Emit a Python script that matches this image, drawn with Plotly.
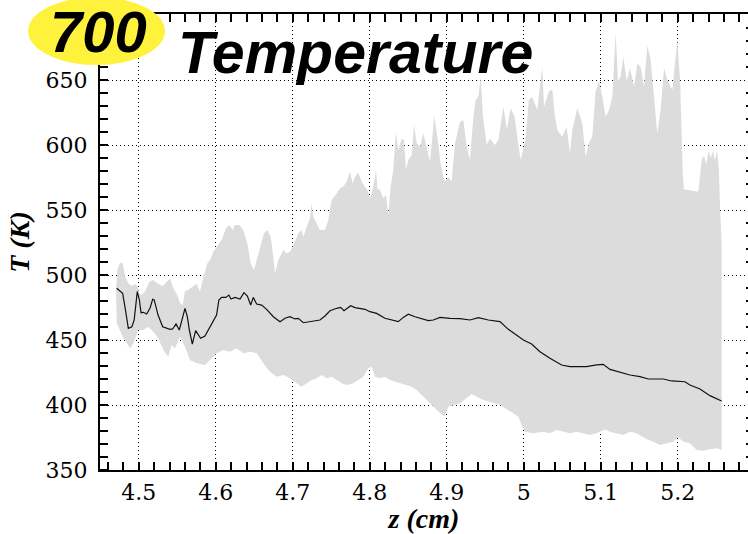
import plotly.graph_objects as go

# Axial position (cm) and temperature envelope (K)
z_upper = [4.4704, 4.4721, 4.4756, 4.4791, 4.4821, 4.4864, 4.4908, 4.4951, 4.4981, 4.5006,
           4.5037, 4.5080, 4.5136, 4.5188, 4.5240, 4.5310, 4.5362, 4.5405, 4.5448, 4.5500,
           4.5535, 4.5570, 4.5600, 4.5643, 4.5708, 4.5752, 4.5795, 4.5838, 4.5890, 4.5925,
           4.5968, 4.6020, 4.6076, 4.6132, 4.6175, 4.6219, 4.6249, 4.6305, 4.6357, 4.6409,
           4.6453, 4.6496, 4.6539, 4.6583, 4.6626, 4.6669, 4.6713, 4.6745, 4.6769, 4.6812,
           4.6877, 4.6921, 4.6964, 4.7007, 4.7072, 4.7115, 4.7137, 4.7180, 4.7223, 4.7245,
           4.7266, 4.7310, 4.7353, 4.7418, 4.7461, 4.7483, 4.7505, 4.7570, 4.7613, 4.7656,
           4.7700, 4.7743, 4.7778, 4.7808, 4.7851, 4.7895, 4.7938, 4.7981, 4.8003, 4.8046,
           4.8081, 4.8098, 4.8133, 4.8176, 4.8211, 4.8241, 4.8271, 4.8305, 4.8340, 4.8370,
           4.8414, 4.8444, 4.8470, 4.8500, 4.8544, 4.8574, 4.8609, 4.8652, 4.8695, 4.8739,
           4.8782, 4.8825, 4.8834, 4.8890, 4.8912, 4.8955, 4.8977, 4.9020, 4.9063, 4.9107,
           4.9172, 4.9215, 4.9258, 4.9301, 4.9345, 4.9375, 4.9410, 4.9440, 4.9470, 4.9518,
           4.9560, 4.9625, 4.9670, 4.9735, 4.9780, 4.9830, 4.9880, 4.9920, 4.9960, 5.0020,
           5.0065, 5.0110, 5.0175, 5.0240, 5.0262, 5.0327, 5.0370, 5.0400, 5.0435, 5.0500,
           5.0556, 5.0600, 5.0630, 5.0695, 5.0760, 5.0803, 5.0846, 5.0890, 5.0933, 5.0977,
           5.1020, 5.1063, 5.1107, 5.1150, 5.1193, 5.1224, 5.1258, 5.1293, 5.1336, 5.1380,
           5.1432, 5.1475, 5.1518, 5.1561, 5.1604, 5.1648, 5.1691, 5.1734, 5.1777, 5.1821,
           5.1864, 5.1929, 5.1994, 5.2030, 5.2065, 5.2080, 5.2267, 5.2310, 5.2340, 5.2370,
           5.2400, 5.2430, 5.2460, 5.2480, 5.2510, 5.2535, 5.2550, 5.2570]
t_upper = [488.5, 503.8, 509.5, 509.0, 498.7, 493.6, 491.5, 493.1, 491.5, 485.9,
           484.6, 487.2, 494.8, 496.2, 493.6, 491.5, 494.8, 497.4, 489.8, 484.6,
           478.2, 476.9, 487.9, 488.5, 491.5, 493.1, 487.2, 498.7, 509.0, 511.5,
           517.9, 521.8, 526.9, 535.9, 538.5, 534.6, 538.5, 538.5, 534.6, 524.4,
           509.0, 503.8, 512.8, 523.1, 532.1, 534.6, 529.5, 515.0, 501.3, 511.5,
           519.2, 516.7, 517.9, 523.1, 532.1, 534.6, 529.5, 537.2, 543.6, 555.1,
           544.8, 539.8, 534.6, 534.6, 542.3, 550.0, 557.7, 562.8, 566.7, 568.0,
           571.8, 579.5, 570.5, 575.6, 578.7, 571.8, 568.0, 564.1, 559.0, 568.0,
           580.8, 566.7, 565.4, 559.0, 561.5, 546.2, 568.0, 580.8, 610.2, 596.2,
           605.1, 603.8, 580.8, 588.5, 592.3, 615.4, 601.3, 598.7, 609.0, 598.7,
           587.2, 614.1, 623.0, 601.3, 588.5, 575.6, 571.8, 575.6, 571.8, 601.3,
           618.0, 619.2, 598.7, 588.5, 621.8, 634.6, 637.0, 652.6, 621.8, 600.0,
           605.1, 600.0, 603.8, 629.5, 612.0, 628.2, 621.8, 604.0, 588.5, 603.8,
           634.6, 637.0, 626.9, 660.3, 629.5, 641.3, 642.5, 624.4, 611.5, 606.4,
           614.0, 593.6, 611.5, 628.2, 616.7, 591.0, 601.3, 606.4, 641.3, 649.0,
           637.0, 621.8, 626.9, 637.0, 686.1, 649.0, 652.6, 668.0, 649.0, 659.2,
           644.8, 662.8, 660.3, 644.8, 676.4, 665.4, 637.0, 609.0, 626.9, 659.2,
           650.0, 642.3, 680.8, 650.0, 578.0, 566.0, 564.0, 588.5, 592.0, 585.0,
           595.0, 590.0, 596.0, 588.0, 596.0, 580.0, 550.0, 524.0]

z_lower = [4.4713, 4.4799, 4.4886, 4.4929, 4.4994, 4.5058, 4.5123, 4.5188, 4.5253, 4.5318,
           4.5383, 4.5427, 4.5470, 4.5535, 4.5600, 4.5665, 4.5752, 4.5860, 4.5925, 4.6012,
           4.6097, 4.6184, 4.6271, 4.6357, 4.6444, 4.6531, 4.6617, 4.6704, 4.6791, 4.6877,
           4.6964, 4.7050, 4.7115, 4.7180, 4.7245, 4.7310, 4.7375, 4.7440, 4.7505, 4.7570,
           4.7635, 4.7700, 4.7786, 4.7851, 4.7916, 4.7981, 4.8024, 4.8068, 4.8132, 4.8197,
           4.8262, 4.8327, 4.8414, 4.8479, 4.8544, 4.8609, 4.8674, 4.8739, 4.8782, 4.8825,
           4.8868, 4.8971, 4.9019, 4.9171, 4.9323, 4.9474, 4.9690, 4.9864, 4.9929, 4.9972,
           5.0015, 5.0123, 5.0253, 5.0340, 5.0427, 5.0513, 5.0600, 5.0687, 5.0773, 5.0860,
           5.0946, 5.1054, 5.1119, 5.1206, 5.1292, 5.1379, 5.1466, 5.1574, 5.1682, 5.1769,
           5.1856, 5.1942, 5.2007, 5.2072, 5.2159, 5.2245, 5.2331, 5.2418, 5.2505, 5.2570]
t_lower = [462.8, 451.3, 443.6, 447.4, 457.7, 457.7, 460.2, 456.4, 451.3, 442.3,
           437.2, 446.2, 443.6, 452.5, 444.8, 434.6, 432.1, 430.8, 434.6, 439.8,
           442.3, 441.0, 443.6, 439.8, 441.0, 439.8, 432.1, 425.6, 421.8, 423.1,
           420.5, 416.7, 414.1, 416.7, 419.2, 420.5, 423.1, 420.5, 421.8, 419.2,
           416.7, 415.4, 416.7, 419.2, 421.8, 428.2, 429.5, 421.8, 420.5, 421.8,
           419.2, 417.9, 416.7, 415.4, 414.1, 411.5, 407.7, 403.8, 401.3, 398.7,
           396.2, 391.0, 398.7, 401.3, 408.5, 403.8, 400.0, 393.6, 391.0, 384.6,
           379.5, 378.2, 379.5, 378.2, 380.8, 379.5, 378.2, 379.5, 378.2, 376.9,
           378.2, 381.3, 379.5, 378.2, 376.9, 379.5, 378.2, 374.4, 371.8, 369.2,
           370.5, 371.8, 375.1, 371.8, 370.5, 365.4, 364.9, 365.9, 366.7, 365.4]

# Mean temperature profile
z_mean = [4.4713, 4.4756, 4.4790, 4.4820, 4.4864, 4.4910, 4.4940, 4.4980, 4.5007, 4.5029,
          4.5059, 4.5102, 4.5145, 4.5180, 4.5200, 4.5250, 4.5310, 4.5405, 4.5440, 4.5483,
          4.5526, 4.5600, 4.5630, 4.5656, 4.5695, 4.5738, 4.5764, 4.5803, 4.5859, 4.5902,
          4.5967, 4.6010, 4.6040, 4.6076, 4.6130, 4.6170, 4.6197, 4.6250, 4.6314, 4.6366,
          4.6410, 4.6453, 4.6487, 4.6530, 4.6596, 4.6660, 4.6747, 4.6834, 4.6899, 4.6963,
          4.7028, 4.7071, 4.7137, 4.7223, 4.7353, 4.7418, 4.7483, 4.7570, 4.7622, 4.7665,
          4.7707, 4.7752, 4.7808, 4.7873, 4.7938, 4.8002, 4.8089, 4.8197, 4.8283, 4.8370,
          4.8435, 4.8500, 4.8587, 4.8673, 4.8760, 4.8825, 4.8912, 4.9042, 4.9172, 4.9301,
          4.9410, 4.9540, 4.9691, 4.9799, 4.9908, 4.9995, 5.0102, 5.0210, 5.0340, 5.0491,
          5.0599, 5.0815, 5.0946, 5.1032, 5.1119, 5.1249, 5.1379, 5.1509, 5.1617, 5.1811,
          5.1920, 5.2093, 5.2158, 5.2288, 5.2418, 5.2569]
t_mean = [489.8, 487.9, 485.9, 475.6, 459.0, 460.2, 465.4, 487.2, 480.8, 471.0,
          471.3, 470.0, 474.4, 481.3, 480.8, 469.2, 460.2, 458.2, 458.5, 462.3,
          457.7, 474.4, 468.0, 457.7, 446.9, 457.2, 455.1, 451.3, 453.1, 457.7,
          465.4, 469.2, 480.8, 482.8, 482.8, 484.6, 481.5, 482.8, 481.5, 486.4,
          483.8, 476.9, 482.8, 477.7, 476.9, 473.6, 467.9, 464.1, 466.7, 467.9,
          466.2, 466.7, 463.3, 464.1, 465.4, 468.5, 472.5, 474.4, 475.1, 472.5,
          474.4, 476.4, 474.9, 474.1, 473.6, 471.8, 470.5, 466.7, 465.4, 464.1,
          467.4, 469.8, 467.9, 466.2, 464.9, 465.4, 467.4, 466.7, 466.4, 465.4,
          467.2, 465.4, 464.1, 458.2, 453.8, 450.0, 446.9, 441.0, 435.9, 430.8,
          429.5, 429.5, 430.8, 431.3, 427.4, 425.1, 423.1, 421.8, 420.0, 420.0,
          418.5, 417.9, 415.4, 412.3, 407.2, 403.1]

x_ticks = [4.5, 4.6, 4.7, 4.8, 4.9, 5.0, 5.1, 5.2]
x_labels = ["4.5", "4.6", "4.7", "4.8", "4.9", "5", "5.1", "5.2"]
y_ticks = [350, 400, 450, 500, 550, 600, 650]
y_labels = ["350", "400", "450", "500", "550", "600", "650"]

x_range = [4.4496, 5.2912]
y_range = [350, 700.8]

band_x = z_upper + z_lower[::-1]
band_y = t_upper + t_lower[::-1]

fig = go.Figure()
fig.add_trace(go.Scatter(
    x=band_x, y=band_y, mode="lines", fill="toself",
    fillcolor="#dcdcdc", line=dict(width=0, color="#dcdcdc"),
    hoverinfo="skip", showlegend=False,
))
fig.add_trace(go.Scatter(
    x=z_mean, y=t_mean, mode="lines",
    line=dict(color="#111111", width=1.2),
    showlegend=False,
))
# invisible trace tied to the right-hand axis so its ticks render
fig.add_trace(go.Scatter(x=[x_range[0]], y=[y_range[0]], yaxis="y2",
                         mode="markers", marker=dict(opacity=0),
                         hoverinfo="skip", showlegend=False))

SANS = "Liberation Sans"
tick_font = dict(family="DejaVu Serif", size=22, color="black")
title_font = dict(family="serif", size=28, color="black", weight="bold", style="italic")

fig.update_layout(
    width=748, height=534,
    margin=dict(l=100, r=0, t=14, b=64),
    paper_bgcolor="white", plot_bgcolor="white",
    xaxis=dict(
        range=x_range, tickvals=x_ticks, ticktext=x_labels,
        ticks="", showline=True, linecolor="black", linewidth=2,
        mirror="allticks",
        showgrid=True, gridcolor="black", gridwidth=1, griddash="1px,3px",
        minor=dict(ticks="inside", ticklen=8, tickwidth=2, tickcolor="black",
                   dtick=0.02, tick0=4.5, showgrid=False),
        tickfont=tick_font, zeroline=False, ticklabelstandoff=2,
        title=dict(text="z (cm)", font=title_font, standoff=8),
    ),
    yaxis=dict(
        range=y_range, tickvals=y_ticks, ticktext=y_labels,
        ticks="", showline=True, linecolor="black", linewidth=2, mirror=False,
        showgrid=True, gridcolor="black", gridwidth=1, griddash="1px,3px",
        minor=dict(ticks="inside", ticklen=8, tickwidth=2, tickcolor="black",
                   dtick=10, tick0=350, showgrid=False),
        tickfont=tick_font, zeroline=False, ticklabelstandoff=6,
        title=dict(text="T (K)", font=title_font, standoff=8),
    ),
    yaxis2=dict(
        range=y_range, overlaying="y", side="right", anchor="x",
        showline=False, showgrid=False, showticklabels=False, ticks="",
        minor=dict(ticks="inside", ticklen=2, tickwidth=2, tickcolor="black",
                   dtick=10, tick0=350, showgrid=False),
        zeroline=False,
    ),
    shapes=[dict(
        type="circle", xref="paper", yref="paper",
        x0=-0.111, x1=0.1003, y0=0.888, y1=1.037,
        fillcolor="#fff23c", line=dict(width=0), layer="above",
    )],
    annotations=[
        dict(text="700", xref="paper", yref="paper", x=-0.003, y=0.963,
             xanchor="center", yanchor="middle", showarrow=False, height=52,
             font=dict(family=SANS, size=58, color="black",
                       weight="bold", style="italic")),
        dict(text="Temperature", xref="paper", yref="paper", x=0.395, y=0.915,
             xanchor="center", yanchor="middle", showarrow=False,
             font=dict(family=SANS, size=59, color="black",
                       weight="bold", style="italic")),
    ],
)

fig.write_html("out.html")
